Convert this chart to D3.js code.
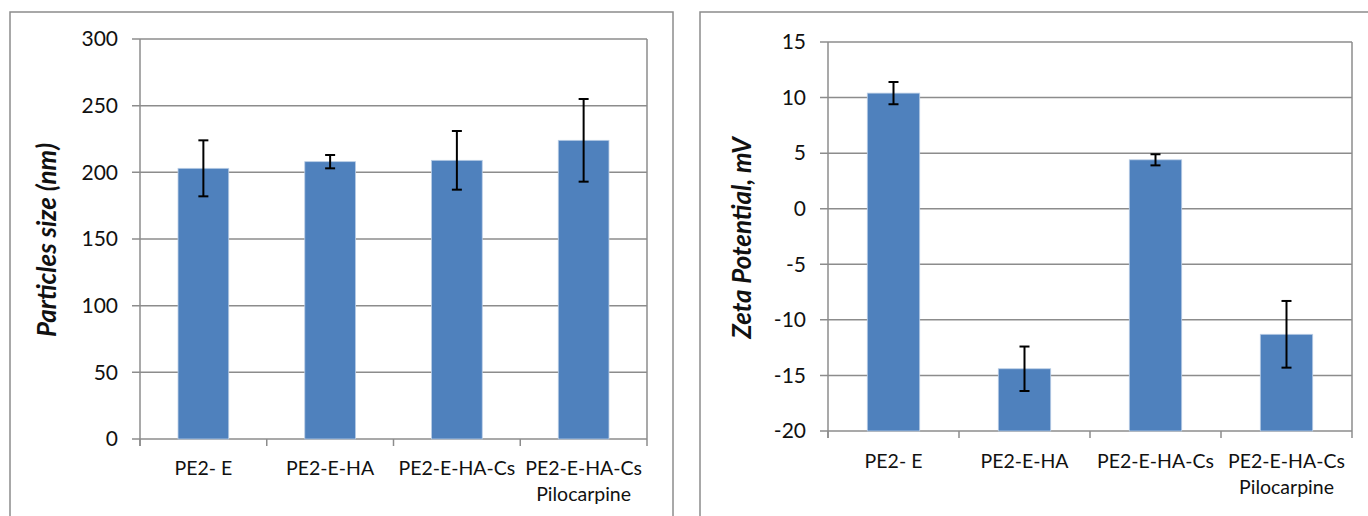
<!DOCTYPE html>
<html>
<head>
<meta charset="utf-8">
<script src="https://cdn.jsdelivr.net/npm/d3@7"></script>
<style>
  html, body { margin: 0; padding: 0; background: #fff; }
  svg { display: block; }
</style>
</head>
<body>
<svg id="chart" width="1368" height="516"></svg>
<script>
// data
var categories = ["PE2- E", "PE2-E-HA", "PE2-E-HA-Cs", "PE2-E-HA-Cs\nPilocarpine"];

var sizeValues = [203, 208, 209, 224];
var sizeErrors = [21, 5, 22, 31];
var sizeTicks = [0, 50, 100, 150, 200, 250, 300];

var zetaValues = [10.4, -14.4, 4.4, -11.3];
var zetaErrors = [1.0, 2.0, 0.5, 3.0];
var zetaTicks = [-20, -15, -10, -5, 0, 5, 10, 15];

var barColor = "#4f81bd";
var gridColor = "#8c8c8c";
var font = "Lato, 'Open Sans', sans-serif";

var svg = d3.select("#chart");

// draws one Excel-like bar panel
var drawPanel = function (opt) {
    var g = svg.append("g");

    // outer chart frame
    g.append("rect")
        .attr("x", opt.frame[0]).attr("y", opt.frame[1])
        .attr("width", opt.frame[2]).attr("height", opt.frame[3])
        .attr("fill", "none").attr("stroke", gridColor).attr("stroke-width", 1.5);

    var x = d3.scaleBand().domain(categories).range([opt.left, opt.right]);
    var y = d3.scaleLinear().domain(d3.extent(opt.ticks)).range([opt.bottom, opt.top]);

    // gridlines
    g.selectAll(".grid").data(opt.ticks).enter().append("line")
        .attr("x1", opt.left - 8).attr("x2", opt.right)
        .attr("y1", function (d) { return y(d); })
        .attr("y2", function (d) { return y(d); })
        .attr("stroke", gridColor).attr("stroke-width", 1.5);

    // right border of plot
    g.append("line")
        .attr("x1", opt.right).attr("x2", opt.right)
        .attr("y1", opt.top).attr("y2", opt.bottom + 7)
        .attr("stroke", gridColor).attr("stroke-width", 1.5);

    // y axis line
    g.append("line")
        .attr("x1", opt.left).attr("x2", opt.left)
        .attr("y1", opt.top).attr("y2", opt.bottom + 7)
        .attr("stroke", gridColor).attr("stroke-width", 1.5);

    // category ticks
    g.selectAll(".xtick").data(categories).enter().append("line")
        .attr("x1", function (d) { return x(d); })
        .attr("x2", function (d) { return x(d); })
        .attr("y1", opt.bottom).attr("y2", opt.bottom + 7)
        .attr("stroke", gridColor).attr("stroke-width", 1.5);

    // y tick labels
    g.selectAll(".ylab").data(opt.ticks).enter().append("text")
        .attr("x", opt.left - 22)
        .attr("y", function (d) { return y(d); })
        .attr("dy", "0.35em")
        .attr("text-anchor", "end")
        .attr("font-family", font).attr("font-size", 21).attr("fill", "#111")
        .text(function (d) { return d; });

    // category labels
    var labels = g.selectAll(".xlab").data(categories).enter().append("text")
        .attr("x", function (d) { return x(d) + x.bandwidth() / 2; })
        .attr("y", opt.labelY)
        .attr("text-anchor", "middle")
        .attr("font-family", font).attr("font-size", 19.5).attr("fill", "#111");
    labels.each(function (d) {
        var lines = d.split("\n");
        var t = d3.select(this);
        lines.forEach(function (s, i) {
            t.append("tspan")
                .attr("x", x(d) + x.bandwidth() / 2)
                .attr("dy", i === 0 ? 0 : 26)
                .text(s);
        });
    });

    // bars (Excel gap width 150%)
    var bw = x.bandwidth() / 2.5;
    var base = y.domain()[0];
    g.selectAll(".bar").data(opt.values).enter().append("rect")
        .attr("x", function (d, i) { return x(categories[i]) + (x.bandwidth() - bw) / 2; })
        .attr("y", function (d) { return y(d); })
        .attr("width", bw)
        .attr("height", function (d) { return y(base) - y(d); })
        .attr("fill", barColor)
        .attr("stroke", "#b9cde5").attr("stroke-width", 0.8);

    // error bars
    var err = g.selectAll(".err").data(opt.values).enter().append("g")
        .attr("stroke", "#000").attr("stroke-width", 2);
    err.append("line")
        .attr("x1", function (d, i) { return x(categories[i]) + x.bandwidth() / 2; })
        .attr("x2", function (d, i) { return x(categories[i]) + x.bandwidth() / 2; })
        .attr("y1", function (d, i) { return y(d + opt.errors[i]); })
        .attr("y2", function (d, i) { return y(d - opt.errors[i]); });
    [1, -1].forEach(function (s) {
        err.append("line")
            .attr("x1", function (d, i) { return x(categories[i]) + x.bandwidth() / 2 - 5; })
            .attr("x2", function (d, i) { return x(categories[i]) + x.bandwidth() / 2 + 5; })
            .attr("y1", function (d, i) { return y(d + s * opt.errors[i]); })
            .attr("y2", function (d, i) { return y(d + s * opt.errors[i]); });
    });

    // y axis title
    g.append("text")
        .attr("transform", "translate(" + opt.titleX + "," + opt.titleY + ") rotate(-90)")
        .attr("dy", "0.35em")
        .attr("text-anchor", "middle")
        .attr("font-family", font).attr("font-size", 26)
        .attr("font-weight", "bold").attr("font-style", "italic").attr("fill", "#111")
        .text(opt.title);
};

drawPanel({
    frame: [10, 12, 663, 520],
    left: 140, right: 647, top: 39, bottom: 439,
    ticks: sizeTicks, values: sizeValues, errors: sizeErrors,
    labelY: 475, titleX: 47, titleY: 240,
    title: "Particles size (nm)"
});

drawPanel({
    frame: [700, 12, 680, 520],
    left: 828, right: 1352, top: 42, bottom: 431,
    ticks: zetaTicks, values: zetaValues, errors: zetaErrors,
    labelY: 468, titleX: 742, titleY: 238,
    title: "Zeta Potential, mV"
});
</script>
</body>
</html>
